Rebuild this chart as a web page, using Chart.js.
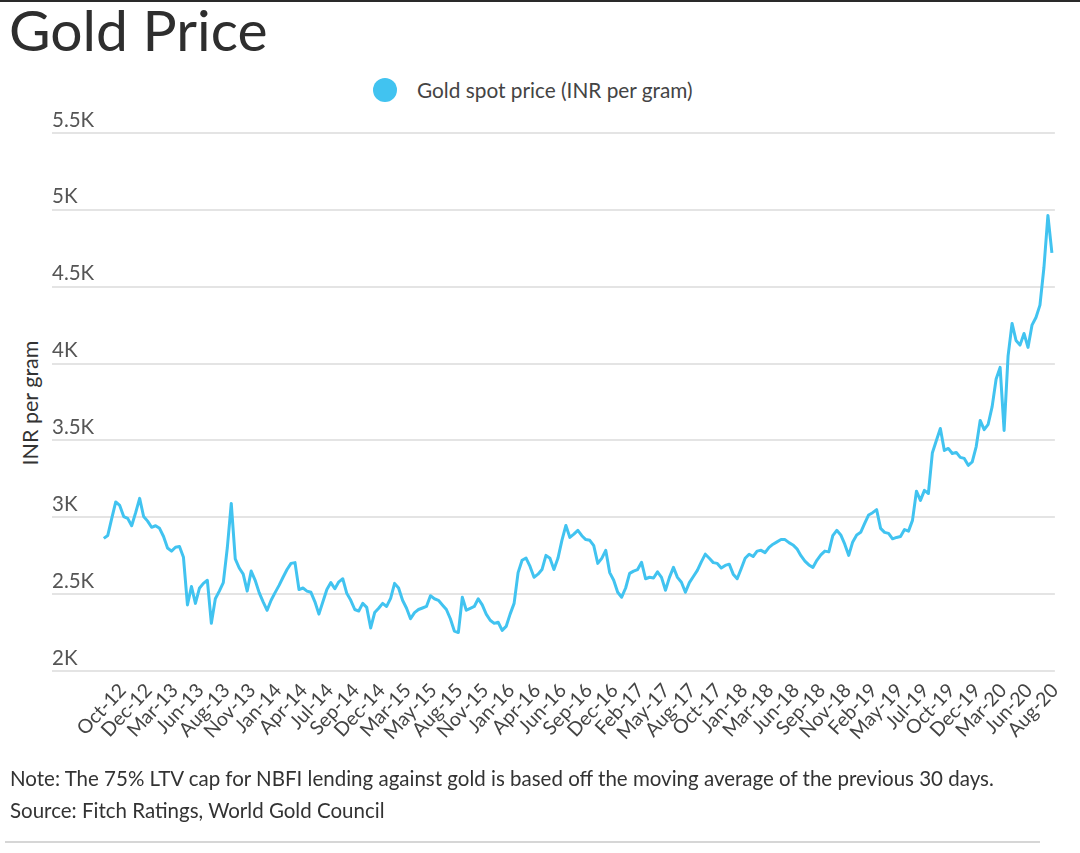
<!DOCTYPE html>
<html>
<head>
<meta charset="utf-8">
<script src="https://cdn.jsdelivr.net/npm/chart.js@4.4.1/dist/chart.umd.min.js"></script>
<style>
  html, body { margin: 0; padding: 0; background: #fff; }
  #wrap { position: relative; width: 1080px; height: 853px; overflow: hidden; font-family: Lato, "Open Sans", sans-serif; }
  #topline { position: absolute; left: 0; top: 0; width: 1080px; height: 2px; background: #2a2a2a; }
  #title { position: absolute; left: 9px; top: 1px; font-size: 57px; line-height: 57px; color: #2e2e2e; white-space: nowrap; }
  #legend { position: absolute; left: 373px; top: 78px; height: 24px; white-space: nowrap; }
  #legend .dot { position: absolute; left: 0; top: 0; width: 24px; height: 24px; border-radius: 50%; background: #41c3f0; }
  #legend .txt { position: absolute; left: 44px; top: 0px; font-size: 20.8px; line-height: 24px; color: #444; }
  #ytitle { position: absolute; left: 30px; top: 403px; transform: translate(-50%, -50%) rotate(-90deg); font-size: 21.5px; color: #333; white-space: nowrap; }
  #note { position: absolute; left: 10px; top: 766px; font-size: 20.5px; line-height: 24px; color: #333; white-space: nowrap; }
  #source { position: absolute; left: 10px; top: 798px; font-size: 20.5px; line-height: 24px; color: #333; white-space: nowrap; }
  #bottomline { position: absolute; left: 5px; top: 841px; width: 1035px; height: 2px; background: #d6d6d6; }
  canvas { position: absolute; left: 0; top: 0; }
</style>
</head>
<body>
<div id="wrap">
  <div id="topline"></div>
  <div id="title">Gold Price</div>
  <div id="legend"><div class="dot"></div><div class="txt">Gold spot price (INR per gram)</div></div>
  <div id="ytitle">INR per gram</div>
  <canvas id="c" width="1080" height="853"></canvas>
  <div id="note">Note: The 75% LTV cap for NBFI lending against gold is based off the moving average of the previous 30 days.</div>
  <div id="source">Source: Fitch Ratings, World Gold Council</div>
  <div id="bottomline"></div>
</div>
<script>
// Gold spot price, INR per gram, roughly every 12 days (Aug 2012 - Aug 2020)
const price2012to2014 = [2863,2882,2993,3100,3077,3005,2993,2945,3030,3123,3005,2975,2935,2945,2928,2875,2800,2780,2805,2810,2740,2430,2550,2440,2538,2570,2590,2310,2470,2520,2575,2800,3090,2730,2670,2630,2520,2650,2590,2510,2450,2395,2460,2510,2557,2610,2660,2700];
const price2014to2015 = [2705,2530,2540,2520,2512,2450,2370,2450,2530,2575,2535,2580,2600,2505,2460,2400,2390,2440,2414,2280,2380,2408,2440,2420,2473,2570,2540,2460,2408,2340,2380,2400,2410,2420,2490,2470,2460,2430,2400,2340,2260,2250,2480,2395,2408,2420,2470,2430];
const price2015to2017 = [2370,2330,2310,2317,2264,2290,2370,2440,2640,2720,2735,2680,2610,2630,2660,2752,2733,2660,2733,2850,2947,2869,2890,2915,2880,2855,2850,2815,2700,2733,2785,2640,2590,2512,2480,2540,2635,2650,2660,2707,2600,2610,2605,2645,2609,2525,2609,2674];
const price2017to2019 = [2609,2577,2512,2575,2615,2655,2710,2760,2733,2705,2700,2670,2687,2695,2630,2600,2665,2733,2760,2745,2780,2785,2770,2804,2825,2840,2855,2855,2835,2820,2795,2750,2715,2690,2674,2720,2755,2780,2775,2880,2915,2885,2825,2752,2840,2885,2902,2960];
const price2019to2020 = [3015,3030,3050,2928,2902,2895,2860,2869,2875,2920,2910,2980,3170,3110,3175,3155,3420,3500,3578,3435,3448,3415,3422,3390,3383,3338,3360,3460,3630,3570,3605,3720,3900,3975,3565,4050,4261,4150,4120,4196,4105,4250,4300,4380,4625,4964,4720];

const tickLabels = ['Oct-12','Dec-12','Mar-13','Jun-13','Aug-13','Nov-13','Jan-14','Apr-14','Jul-14','Sep-14','Dec-14','Mar-15','May-15','Aug-15','Nov-15','Jan-16','Apr-16','Jun-16','Sep-16','Dec-16','Feb-17','May-17','Aug-17','Oct-17','Jan-18','Mar-18','Jun-18','Sep-18','Nov-18','Feb-19','May-19','Jul-19','Oct-19','Dec-19','Mar-20','Jun-20','Aug-20'];
const yTicks = [2000, 2500, 3000, 3500, 4000, 4500, 5000, 5500];

const prices = [].concat(price2012to2014, price2014to2015, price2015to2017, price2017to2019, price2019to2020);

// scale configuration (in period units)
const firstTickAt = 4.75;
const tickEvery = 6.5;
const lineColor = '#41c3f0';

new Chart(document.getElementById('c'), {
  type: 'line',
  data: {
    datasets: [{
      label: 'Gold spot price (INR per gram)',
      data: prices.map((v, i) => ({ x: i, y: v })),
      borderColor: lineColor,
      backgroundColor: lineColor,
      borderWidth: 3,
      borderJoinStyle: 'round',
      pointRadius: 0,
      tension: 0,
      fill: false
    }]
  },
  options: {
    responsive: false,
    animation: false,
    layout: { padding: { left: 52, right: 21, top: 133, bottom: 112 } },
    plugins: { legend: { display: false }, tooltip: { enabled: false } },
    scales: {
      x: {
        type: 'linear',
        min: -13,
        max: firstTickAt + tickEvery * (tickLabels.length - 1),
        grid: { display: false, drawTicks: false },
        border: { display: false },
        afterBuildTicks: (s) => { s.ticks = tickLabels.map((_, i) => ({ value: firstTickAt + i * tickEvery })); },
        afterFit: (s) => { s.height = 70; },
        ticks: {
          autoSkip: false,
          minRotation: 47,
          maxRotation: 47,
          padding: 8,
          color: '#444',
          font: { family: 'Lato', size: 19.5 },
          callback: (v, i) => tickLabels[i]
        }
      },
      y: {
        min: yTicks[0],
        max: yTicks[yTicks.length - 1],
        afterBuildTicks: (s) => { s.ticks = yTicks.map(v => ({ value: v })); },
        grid: { color: '#e4e4e4', lineWidth: 2, drawTicks: false },
        border: { display: false },
        ticks: {
          mirror: true,
          padding: 0,
          labelOffset: -13,
          color: '#555',
          font: { family: 'Lato', size: 20.5 },
          callback: (v) => (v / 1000) + 'K'
        }
      }
    }
  }
});
</script>
</body>
</html>
